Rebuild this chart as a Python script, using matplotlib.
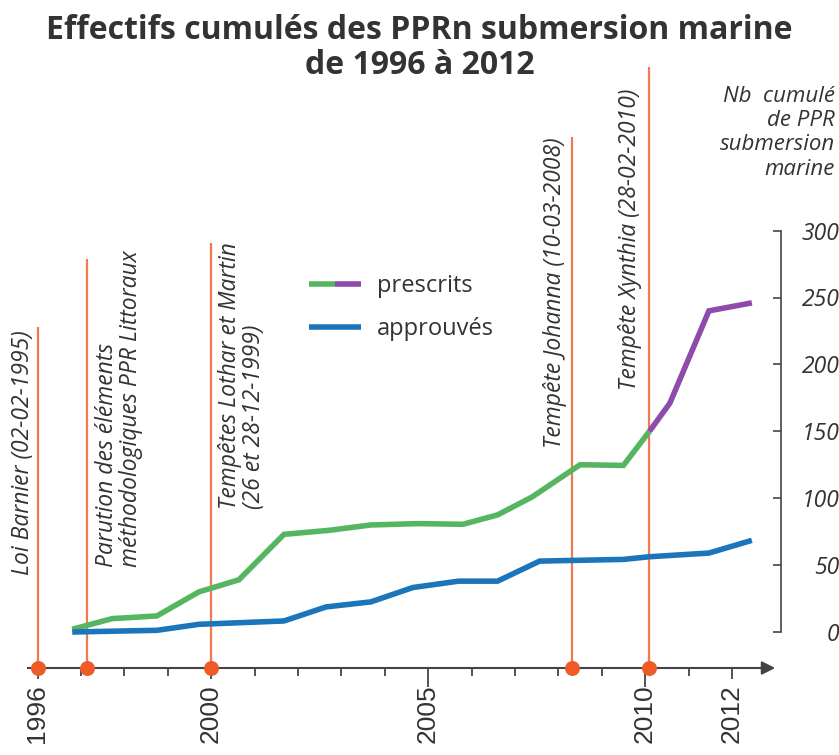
import matplotlib.pyplot as plt
from matplotlib.legend_handler import HandlerTuple

# donnees
annees_presc = [1996.8, 1997.72, 1998.75, 1999.72, 2000.64, 2001.68, 2002.72, 2003.68,
                2004.77, 2005.8, 2006.6, 2007.4, 2008.5, 2009.5, 2010.1]
presc = [2, 10, 12, 30, 39, 73, 76, 80, 81, 80.5, 87.5, 101, 125, 124.5, 150]
annees_presc2 = [2010.1, 2010.57, 2011.47, 2012.46]
presc2 = [150, 171, 240, 246]

annees_appr = [1996.8, 1998.75, 1999.72, 2001.68, 2002.65, 2003.68, 2004.65, 2005.7,
               2006.6, 2007.57, 2009.5, 2010.1, 2011.47, 2012.46]
appr = [0, 1.25, 5.75, 8.25, 18.75, 22.5, 33.25, 38, 38, 53, 54.25, 56.25, 59, 68.5]

evenements = ["Loi Barnier (02-02-1995)",
              "Parution des éléments\nméthodologiques PPR Littoraux",
              "Tempêtes Lothar et Martin\n(26 et 28-12-1999)",
              "Tempête Johanna (10-03-2008)",
              "Tempête Xynthia (28-02-2010)"]
dates_evt = [1996.0, 1997.15, 2000.0, 2008.32, 2010.1]
haut_evt = [228, 279, 291, 370, 422]

annees_lab = [1996, 2000, 2005, 2010, 2012]
yticks = [0, 50, 100, 150, 200, 250, 300]

vert = "#56b560"
violet = "#8e4baa"
bleu = "#1b75bb"
rouge = "#f07a50"
gris = "#333333"

# passage pixels -> donnees
def px_x(px):
    return 1996 + (px - 37.5) / 43.4

def px_y(py):
    return (632 - py) / 1.338

fig = plt.figure(figsize=(8.39, 7.55), dpi=100)
ax = fig.add_axes([0, 0, 1, 1])
ax.set_xlim(px_x(0), px_x(839))
ax.set_ylim(px_y(755), px_y(0))
ax.patch.set_alpha(0)

yaxe = px_y(668)

ax.spines["top"].set_visible(False)
ax.spines["left"].set_visible(False)
ax.spines["bottom"].set_position(("data", yaxe))
ax.spines["bottom"].set_bounds(px_x(28), px_x(770))
ax.spines["bottom"].set_color("#444444")
ax.spines["bottom"].set_linewidth(1.5)
ax.spines["right"].set_position(("data", px_x(781)))
ax.spines["right"].set_bounds(0, 300)
ax.spines["right"].set_color("#444444")
ax.spines["right"].set_linewidth(1.2)

ax.annotate("", xy=(px_x(778), yaxe), xytext=(px_x(760), yaxe),
            arrowprops=dict(arrowstyle="-|>", color="#444444", lw=1.5, mutation_scale=20))

ax.set_xticks(annees_lab)
ax.set_xticks(range(1997, 2013), minor=True)
ax.set_xticklabels([str(a) for a in annees_lab], rotation=90, fontsize=19,
                   family="Liberation Sans", color=gris)
ax.tick_params(axis="x", which="major", direction="out", length=8, width=1.3,
               color="#444444", pad=4)
ax.tick_params(axis="x", which="minor", direction="out", length=6, width=1.3,
               color="#444444")
for t, a in zip(ax.xaxis.get_major_ticks(), annees_lab):
    if a in (2005, 2010):
        t.tick1line.set_markersize(14)

ax.yaxis.tick_right()
ax.set_yticks(yticks)
ax.set_yticklabels([str(v) for v in yticks], fontsize=16.5, family="Open Sans",
                   style="italic", color=gris)
for lab in ax.get_yticklabels():
    lab.set_horizontalalignment("right")
ax.tick_params(axis="y", direction="in", length=6, width=1.2, color="#444444", pad=42)

# evenements
ax.vlines(dates_evt, yaxe, haut_evt, color=rouge, lw=1.6, zorder=2)
ax.scatter(dates_evt, [yaxe] * len(dates_evt), s=95, color="#ee5a28", zorder=5,
           clip_on=False)

pos_txt = [(23, 575), (119, 567), (242, 509), (555, 448), (630, 390)]
for txt, (px, py) in zip(evenements, pos_txt):
    ax.text(px_x(px), px_y(py), txt, rotation=90, ha="center", va="bottom",
            fontsize=16.5, family="Open Sans", style="italic", color=gris,
            multialignment="left", linespacing=1.05)

# courbes
l1, = ax.plot(annees_presc, presc, color=vert, lw=4, solid_capstyle="butt",
              solid_joinstyle="miter", zorder=3)
l2, = ax.plot(annees_presc2, presc2, color=violet, lw=4, solid_capstyle="butt",
              solid_joinstyle="miter", zorder=3)
l3, = ax.plot(annees_appr, appr, color=bleu, lw=4, solid_capstyle="butt",
              solid_joinstyle="miter", zorder=3)

leg = ax.legend([(l1, l2), l3], ["prescrits", "approuvés"],
                handler_map={tuple: HandlerTuple(ndivide=None, pad=0)},
                loc="upper left", bbox_to_anchor=(288 / 839, 1 - 253 / 755),
                frameon=False, handlelength=2.2, handletextpad=0.65,
                labelspacing=0.8, prop={"family": "Open Sans", "size": 17})
for t in leg.get_texts():
    t.set_color(gris)

fig.text(835 / 839, 1 - 86 / 755, "Nb  cumulé\nde PPR\nsubmersion\nmarine",
         ha="right", va="top", fontsize=16, family="Open Sans", style="italic",
         color=gris, linespacing=1.2)

fig.text(0.5, 1 - 48 / 755, "Effectifs cumulés des PPRn submersion marine\nde 1996 à 2012",
         ha="center", va="center", fontsize=23, family="Open Sans", weight="bold",
         color=gris, linespacing=1.05)

fig.savefig("out.png", dpi=100)
